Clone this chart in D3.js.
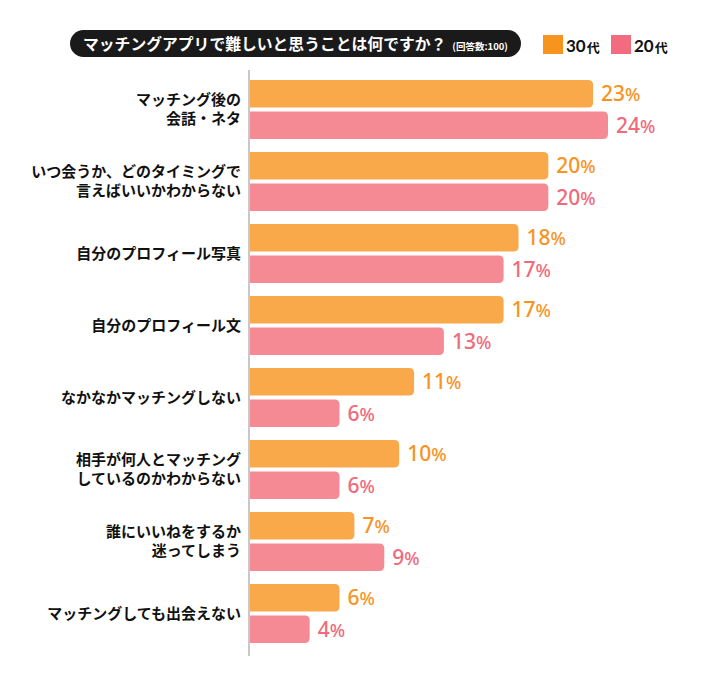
<!DOCTYPE html>
<html><head><meta charset="utf-8">
<script src="https://cdn.jsdelivr.net/npm/d3@7"></script>
<style>body{margin:0;background:#fff;} svg{display:block;font-family:"Noto Sans CJK JP","Noto Sans",sans-serif;}</style>
</head><body>
<svg id="c" width="701" height="685"></svg>
<script>
const categories = [
  ["マッチング後の","会話・ネタ"],
  ["いつ会うか、どのタイミングで","言えばいいかわからない"],
  ["自分のプロフィール写真"],
  ["自分のプロフィール文"],
  ["なかなかマッチングしない"],
  ["相手が何人とマッチング","しているのかわからない"],
  ["誰にいいねをするか","迷ってしまう"],
  ["マッチングしても出会えない"]
];
const series30 = [23, 20, 18, 17, 11, 10, 7, 6];
const series20 = [24, 20, 17, 13, 6, 6, 9, 4];
const seriesNames = ["30", "20"];
const title = "マッチングアプリで難しいと思うことは何ですか？";
const subtitle = "(回答数:100)";

const svg = d3.select("#c");
const x = d3.scaleLinear().domain([0, 24]).range([250, 608]);
const y = d3.scaleBand().domain(d3.range(categories.length)).range([80, 656]).paddingInner(0).paddingOuter(0);
const barH = 27.5, gap = 4;
const colBar = ["#f9a84a", "#f58a94"];
const colText = ["#f7931e", "#ef6a7b"];
const colLegend = ["#f7941d", "#f36b7e"];

// title pill
svg.append("rect").attr("x", 70).attr("y", 30).attr("width", 451).attr("height", 27).attr("rx", 13.5).attr("fill", "#1a1a1a");
const t = svg.append("text").attr("x", 83).attr("y", 49.5).attr("fill", "#fff").attr("font-weight", "bold").attr("font-size", 15.8);
t.append("tspan").text(title);
t.append("tspan").attr("font-size", 9.5).attr("dx", 6).text(subtitle);

// legend
const lg = [{x:543, name:seriesNames[0], c:colLegend[0]}, {x:611, name:seriesNames[1], c:colLegend[1]}];
lg.forEach(d => {
  svg.append("rect").attr("x", d.x).attr("y", 35).attr("width", 20).attr("height", 19).attr("fill", d.c);
  const lt = svg.append("text").attr("x", d.x + 23).attr("y", 51.5).attr("font-size", 17).attr("font-weight", "bold").attr("fill", "#111");
  lt.append("tspan").attr("font-family", "Lato, 'Noto Sans', sans-serif").text(d.name);
  lt.append("tspan").attr("font-size", 13).attr("dx", 1).text("代");
});

// axis line
svg.append("line").attr("x1", 249).attr("x2", 249).attr("y1", 70).attr("y2", 656).attr("stroke", "#c8c8c8").attr("stroke-width", 2);

const g = svg.append("g");
categories.forEach((cat, i) => {
  const y0 = y(i);
  [series30[i], series20[i]].forEach((v, j) => {
    const yy = y0 + j * (barH + gap);
    const w = x(v) - x(0);
    g.append("path").attr("fill", colBar[j])
      .attr("d", `M${x(0)},${yy}H${x(0)+w-5}Q${x(0)+w},${yy} ${x(0)+w},${yy+5}V${yy+barH-5}Q${x(0)+w},${yy+barH} ${x(0)+w-5},${yy+barH}H${x(0)}Z`);
    const lt = g.append("text").attr("x", x(v) + 8).attr("y", yy + barH/2 + 7.5)
      .attr("fill", colText[j]).attr("font-size", 21).attr("font-family", "'Noto Sans', sans-serif").attr("font-weight", 500);
    lt.append("tspan").text(v);
    lt.append("tspan").attr("font-size", 18).text("%");
  });
  const cy = y0 + (2*barH + gap)/2;
  const lines = cat;
  const lh = 19;
  lines.forEach((ln, k) => {
    g.append("text").attr("x", 241).attr("y", cy + (k - (lines.length-1)/2) * lh + 5)
      .attr("text-anchor", "end").attr("font-size", 15).attr("font-weight", "bold").attr("fill", "#111").text(ln);
  });
});
</script>
</body></html>
